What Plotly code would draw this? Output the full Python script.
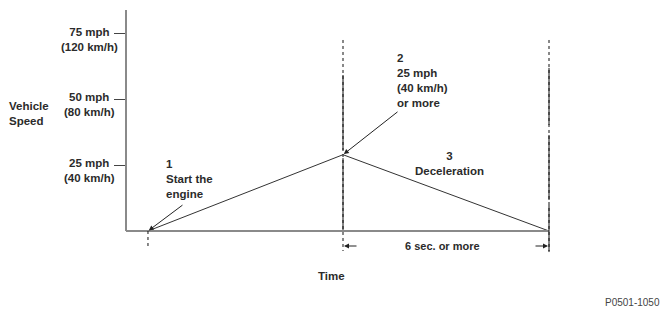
import plotly.graph_objects as go

# Speed profile of the drive pattern: start, peak, end of deceleration
time_s = [0.0, 5.68, 11.68]
speed_mph = [0, 29, 0]

# Speed ticks and their two-unit labels
tick_mph = [25, 50, 75]
tick_text = ["25 mph<br>(40 km/h)", "50 mph<br>(80 km/h)", "75 mph<br>(120 km/h)"]

# Step annotations
step_labels = ["1<br>Start the<br>engine", "2<br>25 mph<br>(40 km/h)<br>or more", "3<br>Deceleration"]
span_label = "6 sec. or more"

x_min, x_max = -0.64, 12.0
y_min, y_max = -9.5, 84

TEXT = "#2b2b2b"
AXIS = "#8a8a8a"
FONT = dict(family="Liberation Sans, Arial, sans-serif", size=11.5, color=TEXT, weight="bold")

fig = go.Figure()
fig.add_trace(go.Scatter(
    x=time_s, y=speed_mph, mode="lines",
    line=dict(color="#333333", width=1), hoverinfo="skip", showlegend=False,
))

shapes = []
# axis lines (drawn as shapes so they stop at the origin)
shapes.append(dict(type="line", xref="paper", yref="y", x0=0, x1=0, y0=0, y1=y_max,
                   line=dict(color=AXIS, width=2)))
shapes.append(dict(type="line", xref="x", yref="y", x0=x_min, x1=time_s[-1], y0=0, y1=0,
                   line=dict(color=AXIS, width=2)))

# dotted guide lines at start, peak and end
shapes.append(dict(type="line", xref="x", yref="y", x0=time_s[0], x1=time_s[0], y0=0, y1=-5.8,
                   line=dict(color="#111111", width=1, dash="dot")))
for t in time_s[1:]:
    shapes.append(dict(type="line", xref="x", yref="y", x0=t, x1=t, y0=72.6, y1=-7.6,
                       line=dict(color="#111111", width=1, dash="dot")))
# solid runs along the guide lines
for y0, y1 in [(59.3, 30.8), (27.7, 0.4)]:
    shapes.append(dict(type="line", xref="x", yref="y", x0=time_s[1], x1=time_s[1], y0=y0, y1=y1,
                       line=dict(color="#111111", width=1)))
for y0, y1 in [(62.0, 40.3), (36.5, 11.8), (9.9, -8.0)]:
    shapes.append(dict(type="line", xref="x", yref="y", x0=time_s[2], x1=time_s[2], y0=y0, y1=y1,
                       line=dict(color="#111111", width=1)))

ann = []
# two-line tick labels, centred under each other
for v, txt in zip(tick_mph, tick_text):
    ann.append(dict(xref="paper", yref="y", x=0, y=v, text=txt, showarrow=False,
                    xanchor="center", yanchor="top", xshift=-37, yshift=8,
                    align="center", font=FONT, borderpad=0, borderwidth=0))

ann.append(dict(xref="paper", yref="y", x=0, y=44.5, text="Vehicle<br>Speed", showarrow=False,
                xanchor="left", yanchor="middle", xshift=-117, align="left",
                font=FONT, borderpad=0, borderwidth=0))

# step 1 label and pointer to the start point
ann.append(dict(xref="x", yref="y", x=time_s[0], y=speed_mph[0], text=step_labels[0], showarrow=False,
                xanchor="left", yanchor="top", xshift=18, yshift=73, align="left",
                font=FONT, borderpad=0, borderwidth=0))
ann.append(dict(xref="x", yref="y", x=time_s[0], y=speed_mph[0], text="", showarrow=True,
                ax=36, ay=-27, arrowhead=2, arrowsize=1, arrowwidth=1, arrowcolor="#222222",
                standoff=1))

# step 2 label and pointer to the peak
ann.append(dict(xref="x", yref="y", x=time_s[1], y=speed_mph[1], text=step_labels[1], showarrow=False,
                xanchor="left", yanchor="top", xshift=54, yshift=103, align="left",
                font=FONT, borderpad=0, borderwidth=0))
ann.append(dict(xref="x", yref="y", x=time_s[1], y=speed_mph[1], text="", showarrow=True,
                ax=56, ay=-44, arrowhead=2, arrowsize=1, arrowwidth=1, arrowcolor="#222222",
                standoff=1))

# step 3 label
ann.append(dict(xref="x", yref="y", x=time_s[1], y=speed_mph[1], text=step_labels[2], showarrow=False,
                xanchor="center", yanchor="top", xshift=106, yshift=5, align="center",
                font=FONT, borderpad=0, borderwidth=0))

# duration dimension
ann.append(dict(xref="x", yref="y", x=(time_s[1] + time_s[2]) / 2, y=-5.7, text=span_label,
                showarrow=False, xanchor="center", yanchor="middle", xshift=-4,
                font=dict(family="Liberation Sans, Arial, sans-serif", size=11, color=TEXT, weight="bold"),
                borderpad=0, borderwidth=0))
ann.append(dict(xref="x", yref="y", x=time_s[1], y=-5.7, text="", showarrow=True,
                ax=15, ay=0, arrowhead=2, arrowsize=1, arrowwidth=1, arrowcolor="#222222", standoff=1))
ann.append(dict(xref="x", yref="y", x=time_s[2], y=-5.7, text="", showarrow=True,
                ax=-15, ay=0, arrowhead=2, arrowsize=1, arrowwidth=1, arrowcolor="#222222", standoff=1))

ann.append(dict(xref="paper", yref="paper", x=0.5, y=0, text="Time", showarrow=False,
                xanchor="center", yanchor="middle", xshift=-12, yshift=-20,
                font=FONT, borderpad=0, borderwidth=0))

ann.append(dict(xref="paper", yref="paper", x=1, y=0, text="P0501-1050", showarrow=False,
                xanchor="right", yanchor="middle", xshift=100, yshift=-46,
                font=dict(family="Liberation Sans, Arial, sans-serif", size=10, color="#444444"),
                borderpad=0, borderwidth=0))

fig.update_layout(
    width=669, height=319,
    margin=dict(l=126, r=109, t=10, b=63),
    paper_bgcolor="white", plot_bgcolor="white",
    shapes=shapes, annotations=ann,
    xaxis=dict(range=[x_min, x_max], showgrid=False, zeroline=False, showline=False,
               showticklabels=False, ticks=""),
    yaxis=dict(range=[y_min, y_max], showgrid=False, zeroline=False, showline=False,
               tickvals=tick_mph, ticks="outside", ticklen=11, tickwidth=1.2,
               tickcolor="#444444", showticklabels=False),
    showlegend=False,
)

fig.write_html("out.html")
